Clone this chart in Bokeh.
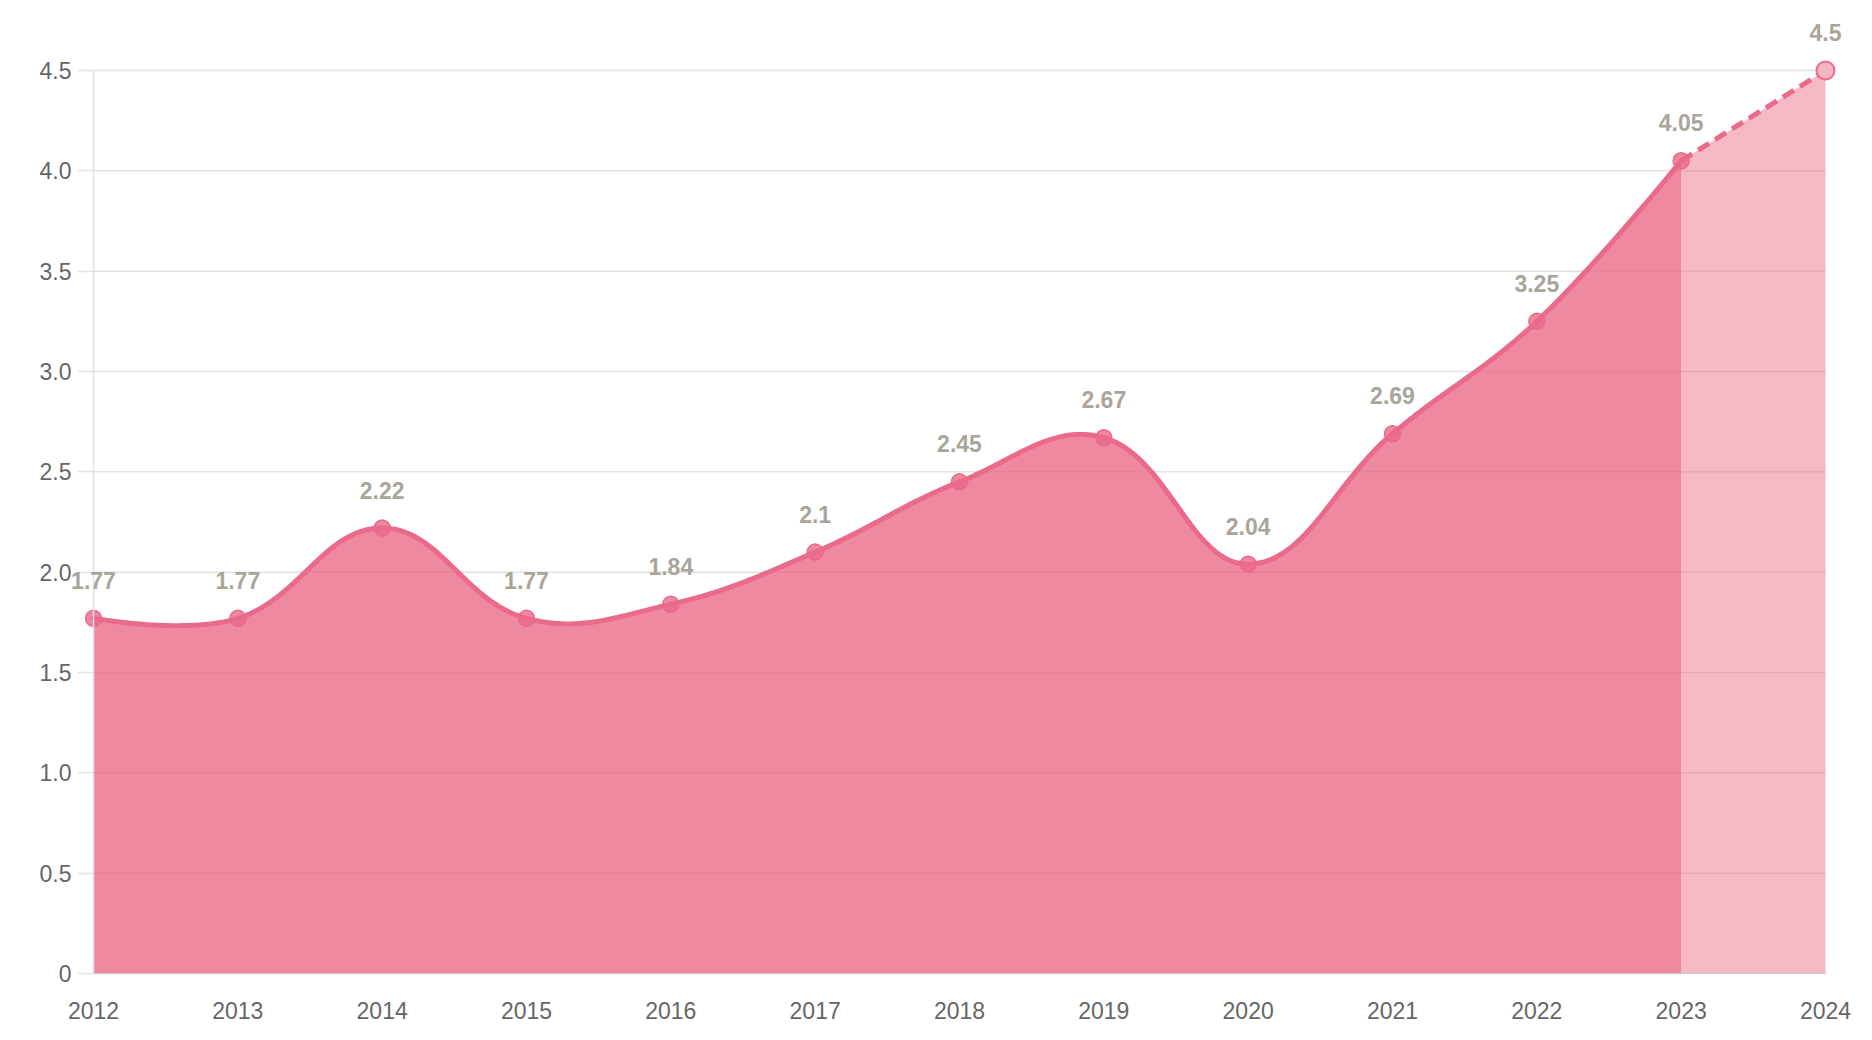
import numpy as np
from bokeh.plotting import figure
from bokeh.models import FixedTicker, CustomJSTickFormatter, Range1d, ColumnDataSource, LabelSet
from bokeh.embed import file_html
from bokeh.resources import INLINE
from bokeh.core.properties import value

# ---- data ----
years = [2012, 2013, 2014, 2015, 2016, 2017, 2018, 2019, 2020, 2021, 2022, 2023, 2024]
values = [1.77, 1.77, 2.22, 1.77, 1.84, 2.10, 2.45, 2.67, 2.04, 2.69, 3.25, 4.05, 4.50]
forecast_start = 2023          # last actual year; the segment after it is a projection
y_ticks = [0, 0.5, 1.0, 1.5, 2.0, 2.5, 3.0, 3.5, 4.0, 4.5]

# ---- layout (pixels) ----
W, H = 1872, 1040
AX_LEFT, AX_RIGHT, AX_TOP, AX_BOTTOM = 93, 1825, 70, 973   # where the axes box sits
FR_LEFT, FR_RIGHT, FR_TOP, FR_BOTTOM = 8, 1864, 6, 1036    # drawing area, roomy enough for edge labels
X0, X1 = years[0], years[-1]
Y0, Y1 = 0, 4.5
PX_X = (AX_RIGHT - AX_LEFT) / (X1 - X0)
PX_Y = (AX_BOTTOM - AX_TOP) / (Y1 - Y0)

LINE = "#ea6a8b"
AREA = "#e8617f"
LABEL = "#a9a59b"
AXIS_TXT = "#666666"
GRID = "#e2e2e2"
FONT = "Liberation Sans"


def smooth_curve(xs, ys, tension=0.4, n=48):
    """Cardinal spline (distance-weighted control points) evaluated in screen pixels."""
    P = np.column_stack([(np.asarray(xs, float) - X0) * PX_X,
                         (np.asarray(ys, float) - Y0) * PX_Y])
    m = len(P)
    c_in = P.copy()
    c_out = P.copy()
    for i in range(1, m - 1):
        prev, cur, nxt = P[i - 1], P[i], P[i + 1]
        d01 = np.hypot(*(cur - prev))
        d12 = np.hypot(*(nxt - cur))
        s01 = d01 / (d01 + d12)
        s12 = d12 / (d01 + d12)
        c_in[i] = cur - tension * s01 * (nxt - prev)
        c_out[i] = cur + tension * s12 * (nxt - prev)
    t = np.linspace(0, 1, n)[:, None]
    pts = [P[:1]]
    for i in range(m - 1):
        a, b, c, d = P[i], c_out[i], c_in[i + 1], P[i + 1]
        seg = (1 - t) ** 3 * a + 3 * (1 - t) ** 2 * t * b + 3 * (1 - t) * t ** 2 * c + t ** 3 * d
        pts.append(seg[1:])
    pts = np.vstack(pts)
    return pts[:, 0] / PX_X + X0, pts[:, 1] / PX_Y + Y0


k = years.index(forecast_start)
act_x, act_y = years[:k + 1], values[:k + 1]
fc_x, fc_y = years[k:], values[k:]
cx, cy = smooth_curve(act_x, act_y)

p = figure(width=W, height=H,
           x_range=Range1d(X0 - (AX_LEFT - FR_LEFT) / PX_X, X1 + (FR_RIGHT - AX_RIGHT) / PX_X),
           y_range=Range1d(Y0 - (FR_BOTTOM - AX_BOTTOM) / PX_Y, Y1 + (AX_TOP - FR_TOP) / PX_Y),
           output_backend="svg", toolbar_location=None,
           min_border_left=FR_LEFT, min_border_right=W - FR_RIGHT,
           min_border_top=FR_TOP, min_border_bottom=H - FR_BOTTOM)
p.outline_line_color = None
p.background_fill_color = "white"
p.border_fill_color = "white"

# horizontal grid lines spanning the year range only
p.xgrid.visible = False
p.ygrid.visible = False
p.segment(x0=[X0] * len(y_ticks), x1=[X1] * len(y_ticks), y0=y_ticks, y1=y_ticks,
          line_color=GRID, line_width=1.5)

# areas
p.varea(x=cx, y1=np.zeros_like(cy), y2=cy, fill_color=AREA, fill_alpha=0.75)
p.varea(x=fc_x, y1=[0] * len(fc_x), y2=fc_y, fill_color=AREA, fill_alpha=0.45)

# lines
p.line(cx, cy, line_color=LINE, line_width=5, line_join="round", line_cap="round")
p.line(fc_x, fc_y, line_color=LINE, line_width=5, line_dash="13 7")

# points
p.scatter(act_x, act_y, size=16, fill_color=LINE, fill_alpha=0.8,
          line_color=LINE, line_width=1.5)
p.scatter(fc_x[1:], fc_y[1:], size=18, fill_color="#f6b4c2",
          line_color=LINE, line_width=2)

# value labels
src = ColumnDataSource(dict(x=years, y=values, t=[f"{v:g}" for v in values]))
p.add_layout(LabelSet(x="x", y="y", text="t", source=src,
                      text_align="center", text_baseline="middle", y_offset=38,
                      text_font=value(FONT), text_font_style="bold",
                      text_font_size="23px", text_color=LABEL))

# axes, pinned to the data origin
p.xaxis.fixed_location = Y0
p.xaxis.ticker = FixedTicker(ticks=years)
p.xaxis.formatter = CustomJSTickFormatter(code="return tick.toFixed(0);")
p.xaxis.bounds = (X0, X1)
p.xaxis.major_tick_line_color = None
p.xaxis.minor_tick_line_color = None
p.xaxis.axis_line_color = "#d6c3c8"
p.xaxis.major_label_standoff = 22
p.xaxis.major_label_text_font = FONT
p.xaxis.major_label_text_font_size = "23px"
p.xaxis.major_label_text_color = AXIS_TXT

p.yaxis.fixed_location = X0
p.yaxis.bounds = (Y0, Y1)
p.yaxis.ticker = FixedTicker(ticks=y_ticks)
p.yaxis.formatter = CustomJSTickFormatter(code="return tick == 0 ? '0' : tick.toFixed(1);")
p.yaxis.axis_line_color = GRID
p.yaxis.axis_line_width = 1.5
p.yaxis.major_tick_line_color = GRID
p.yaxis.major_tick_line_width = 1.5
p.yaxis.major_tick_out = 16
p.yaxis.major_tick_in = 0
p.yaxis.minor_tick_line_color = None
p.yaxis.major_label_standoff = 6
p.yaxis.major_label_text_font = FONT
p.yaxis.major_label_text_font_size = "23px"
p.yaxis.major_label_text_color = AXIS_TXT

open("out.html", "w").write(file_html(p, INLINE))
